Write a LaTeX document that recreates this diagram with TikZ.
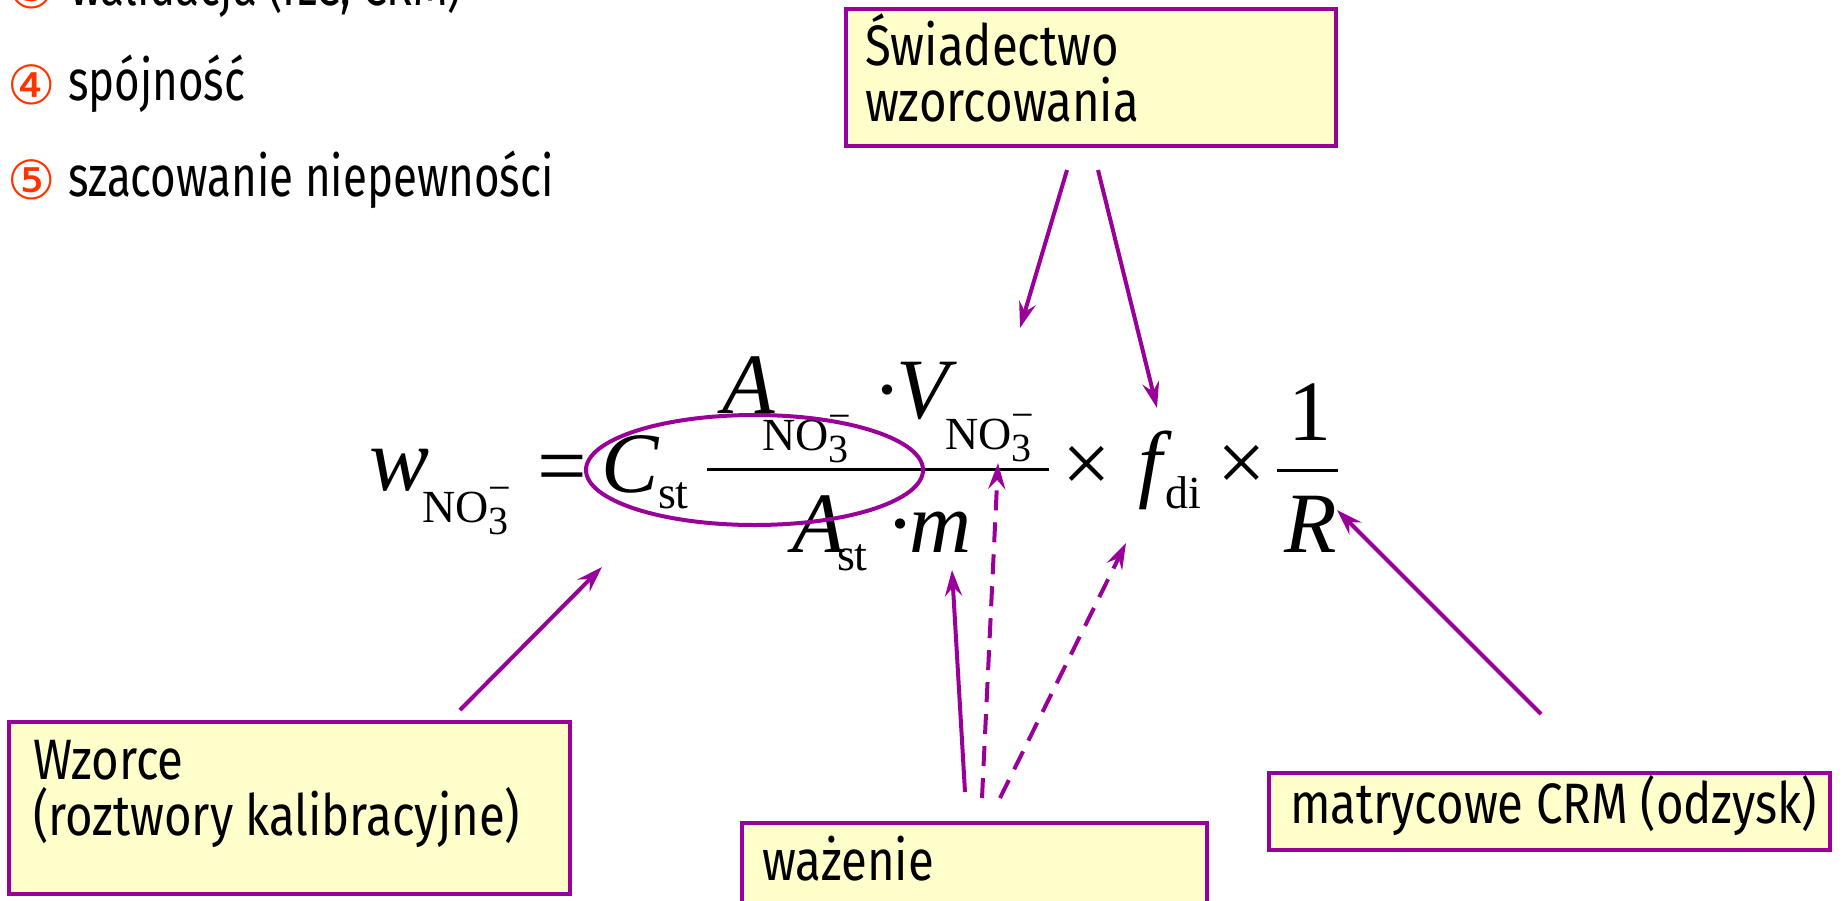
\documentclass[tikz,border=0pt]{standalone}
\usepackage{fontspec}
\setmainfont{Fira Sans}[FakeStretch=0.83]
\newfontfamily\listfont{Fira Sans}[FakeStretch=0.77]
\newfontfamily\serifm{Liberation Serif}
\newfontfamily\symf{DejaVu Sans}
\usetikzlibrary{arrows.meta}
\definecolor{pur}{HTML}{990099}
\definecolor{boxy}{HTML}{FFFFCC}
\definecolor{numc}{HTML}{FF3300}
\newcommand\fsz[1]{\fontsize{#1pt}{#1pt}\selectfont}
\newcommand\NOt{{\fsz{46}NO\rlap{\raisebox{21pt}{\fsz{40}−}}\raisebox{-12pt}{\fsz{40}3}}}
\begin{document}
\begin{tikzpicture}[x=1pt,y=-1pt,
  every node/.style={inner sep=0pt, outer sep=0pt},
  lbl/.style={anchor=base west, font=\fsz{57}},
  litem/.style={anchor=base west, font=\listfont\fsz{57}},
  num/.style={anchor=base west, font=\symf\fsz{54}, text=numc},
  mi/.style={anchor=base west, font=\serifm\itshape\fsz{86}},
  mr/.style={anchor=base west, font=\serifm\fsz{86}},
  sb/.style={anchor=base west, font=\serifm\fsz{46}},
  box/.style={draw=pur, line width=4pt, fill=boxy, anchor=north west},
  arr/.style={draw=pur, line width=4pt, -{Stealth[length=26pt,width=17pt,inset=9pt]}},
  darr/.style={arr, dash pattern=on 20pt off 12pt},
]
\useasboundingbox (0,0) rectangle (1844,900);
\clip (0,0) rectangle (1844,900);

% left list
\node[num] (n3) at (8,8) {③};
\node[litem] (t3) at (70,5) {walidacja (ILC, CRM)};
\node[num] (n4) at (8,104) {④};
\node[litem] (t4) at (68,100) {spójność};
\node[num] (n5) at (8,199) {⑤};
\node[litem] (t5) at (68,196) {szacowanie niepewności};

% boxes
\node[box, minimum width=490pt, minimum height=137pt] (bsw) at (846,9) {};
\node[lbl] (tsw1) at (865,65) {Świadectwo};
\node[lbl] (tsw2) at (865,121) {wzorcowania};

\node[box, minimum width=561pt, minimum height=172pt] (bwz) at (9,722) {};
\node[lbl] (twz1) at (33,779) {Wzorce};
\node[lbl] (twz2) at (33,835) {(roztwory kalibracyjne)};

\node[box, minimum width=465pt, minimum height=100pt] (bwa) at (742,823) {};
\node[lbl] (twa) at (762,880) {ważenie};

\node[box, minimum width=561pt, minimum height=77pt] (bcrm) at (1269,773) {};
\node[lbl] (tcrm) at (1290,823) {matrycowe CRM (odzysk)};

% formula
\node[mi, font=\serifm\itshape\fsz{90}] (w) at (369,490) {w};
\node[sb] (wsub) at (422,522) {\NOt};
\node[mr, font=\serifm\fsz{88}] (eq) at (537,495) {=};
\node[mi] (C) at (601,492) {C};
\node[sb] (Csub) at (658,508) {st};
\draw[line width=3pt] (707,469) -- (1049,469);
\node[mi] (An) at (722,413) {A};
\node[sb] (Ansub) at (762,450) {\NOt};
\node[mi] (V) at (875,418) {·V};
\node[sb] (Vsub) at (945,449) {\NOt};
\node[mi] (Ad) at (792,552) {A};
\node[sb] (Adsub) at (837,570) {st};
\node[mi] (m) at (888,552) {·m};
\node[mr, anchor=center] (x1) at (1087,469) {×};
\node[mi] (f) at (1138,491) {f};
\node[sb] (fsub) at (1165,508) {di};
\node[mr, anchor=center] (x2) at (1242,468) {×};
\draw[line width=3pt] (1277,470) -- (1338,470);
\node[mr, anchor=base] (one) at (1310,440) {1};
\node[mi] (R) at (1284,552) {R};

\draw[draw=pur, line width=4pt] (754.5,470) ellipse [x radius=168.5, y radius=55];

% arrows
\coordinate (s1) at (1067,170); \coordinate (e1) at (1020,328);
\coordinate (s2) at (1098,170); \coordinate (e2) at (1157,408);
\coordinate (s3) at (460,710);  \coordinate (e3) at (602,567);
\coordinate (s4) at (965,792);  \coordinate (e4) at (952,570);
\coordinate (s5) at (982,798);  \coordinate (e5) at (998,463);
\coordinate (s6) at (1000,798); \coordinate (e6) at (1126,543);
\coordinate (s7) at (1541,714); \coordinate (e7) at (1337,510);
\draw[arr] (s1) -- (e1);
\draw[arr] (s2) -- (e2);
\draw[arr] (s3) -- (e3);
\draw[arr] (s4) -- (e4);
\draw[darr] (s5) -- (e5);
\draw[darr] (s6) -- (e6);
\draw[arr] (s7) -- (e7);
\end{tikzpicture}
\end{document}
